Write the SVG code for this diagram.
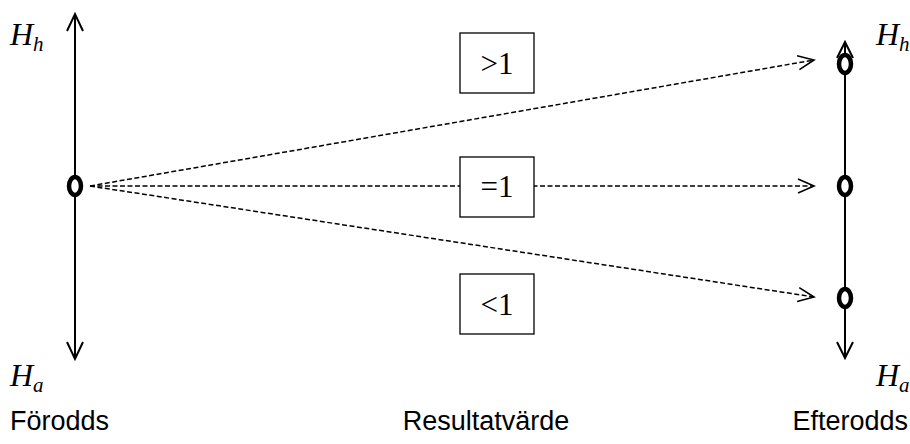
<svg xmlns="http://www.w3.org/2000/svg" width="910" height="444" viewBox="0 0 910 444">
  <style>
    .axis { stroke: #000; stroke-width: 2; fill: none; }
    .dash { stroke: #000; stroke-width: 1.5; fill: none; stroke-dasharray: 5 2.5; }
    .head { stroke: #000; stroke-width: 1.6; fill: none; }
    .node { stroke: #000; stroke-width: 4.5; fill: #fff; }
    .box { stroke: #000; stroke-width: 1.3; fill: #fff; }
    .serif { font-family: "Liberation Serif", "Times New Roman", serif; fill: #000; }
    .sans { font-family: "Liberation Sans", Arial, sans-serif; font-size: 27px; fill: #000; }
  </style>
  <defs>
    <marker id="open" viewBox="0 0 20 20" refX="18" refY="10" markerWidth="20" markerHeight="20" markerUnits="userSpaceOnUse" orient="auto">
      <path d="M2,3 L18,10 L2,17" class="head"/>
    </marker>
  </defs>

  <!-- axes -->
  <g id="axis-left">
    <line class="axis" x1="75" y1="16" x2="75" y2="358"/>
    <path class="axis" d="M67,31 L75,14 L83,31 M67,342 L75,359 L83,342" stroke-width="1.8"/>
  </g>
  <g id="axis-right">
    <line class="axis" x1="845" y1="44" x2="845" y2="356"/>
    <path class="axis" d="M837,58 L845,42 L853,58 M837,342 L845,358 L853,342" stroke-width="1.8"/>
  </g>

  <!-- connectors -->
  <g id="connectors">
    <line class="dash" x1="90" y1="186" x2="814" y2="60" marker-end="url(#open)"/>
    <line class="dash" x1="90" y1="186" x2="814" y2="186" marker-end="url(#open)"/>
    <line class="dash" x1="90" y1="186" x2="814" y2="297" marker-end="url(#open)"/>
  </g>

  <!-- nodes -->
  <g id="prior"><ellipse class="node" cx="75" cy="186" rx="6" ry="9"/></g>
  <g id="post-high"><ellipse class="node" cx="845" cy="64" rx="6" ry="9"/></g>
  <g id="post-equal"><ellipse class="node" cx="845" cy="186" rx="6" ry="9"/></g>
  <g id="post-low"><ellipse class="node" cx="845" cy="298" rx="6" ry="9"/></g>

  <!-- ratio boxes -->
  <g id="ratio-gt">
    <rect class="box" x="460" y="33" width="74" height="60"/>
    <text class="serif" x="497" y="74" font-size="31" text-anchor="middle">&gt;1</text>
  </g>
  <g id="ratio-eq">
    <rect class="box" x="460" y="157" width="74" height="60"/>
    <text class="serif" x="497" y="197" font-size="31" text-anchor="middle">=1</text>
  </g>
  <g id="ratio-lt">
    <rect class="box" x="460" y="274" width="74" height="60"/>
    <text class="serif" x="497" y="315" font-size="31" text-anchor="middle">&lt;1</text>
  </g>

  <!-- hypothesis labels -->
  <g id="labels" class="serif" font-style="italic">
    <text x="10" y="45" font-size="32">H<tspan font-size="21" dy="6">h</tspan></text>
    <text x="10" y="386" font-size="32">H<tspan font-size="21" dy="6">a</tspan></text>
    <text x="876" y="45" font-size="32">H<tspan font-size="21" dy="6">h</tspan></text>
    <text x="876" y="386" font-size="32">H<tspan font-size="21" dy="6">a</tspan></text>
  </g>

  <!-- captions -->
  <text class="sans" x="10" y="430">Förodds</text>
  <text class="sans" x="486" y="430" text-anchor="middle">Resultatvärde</text>
  <text class="sans" x="908" y="430" text-anchor="end">Efterodds</text>
</svg>
